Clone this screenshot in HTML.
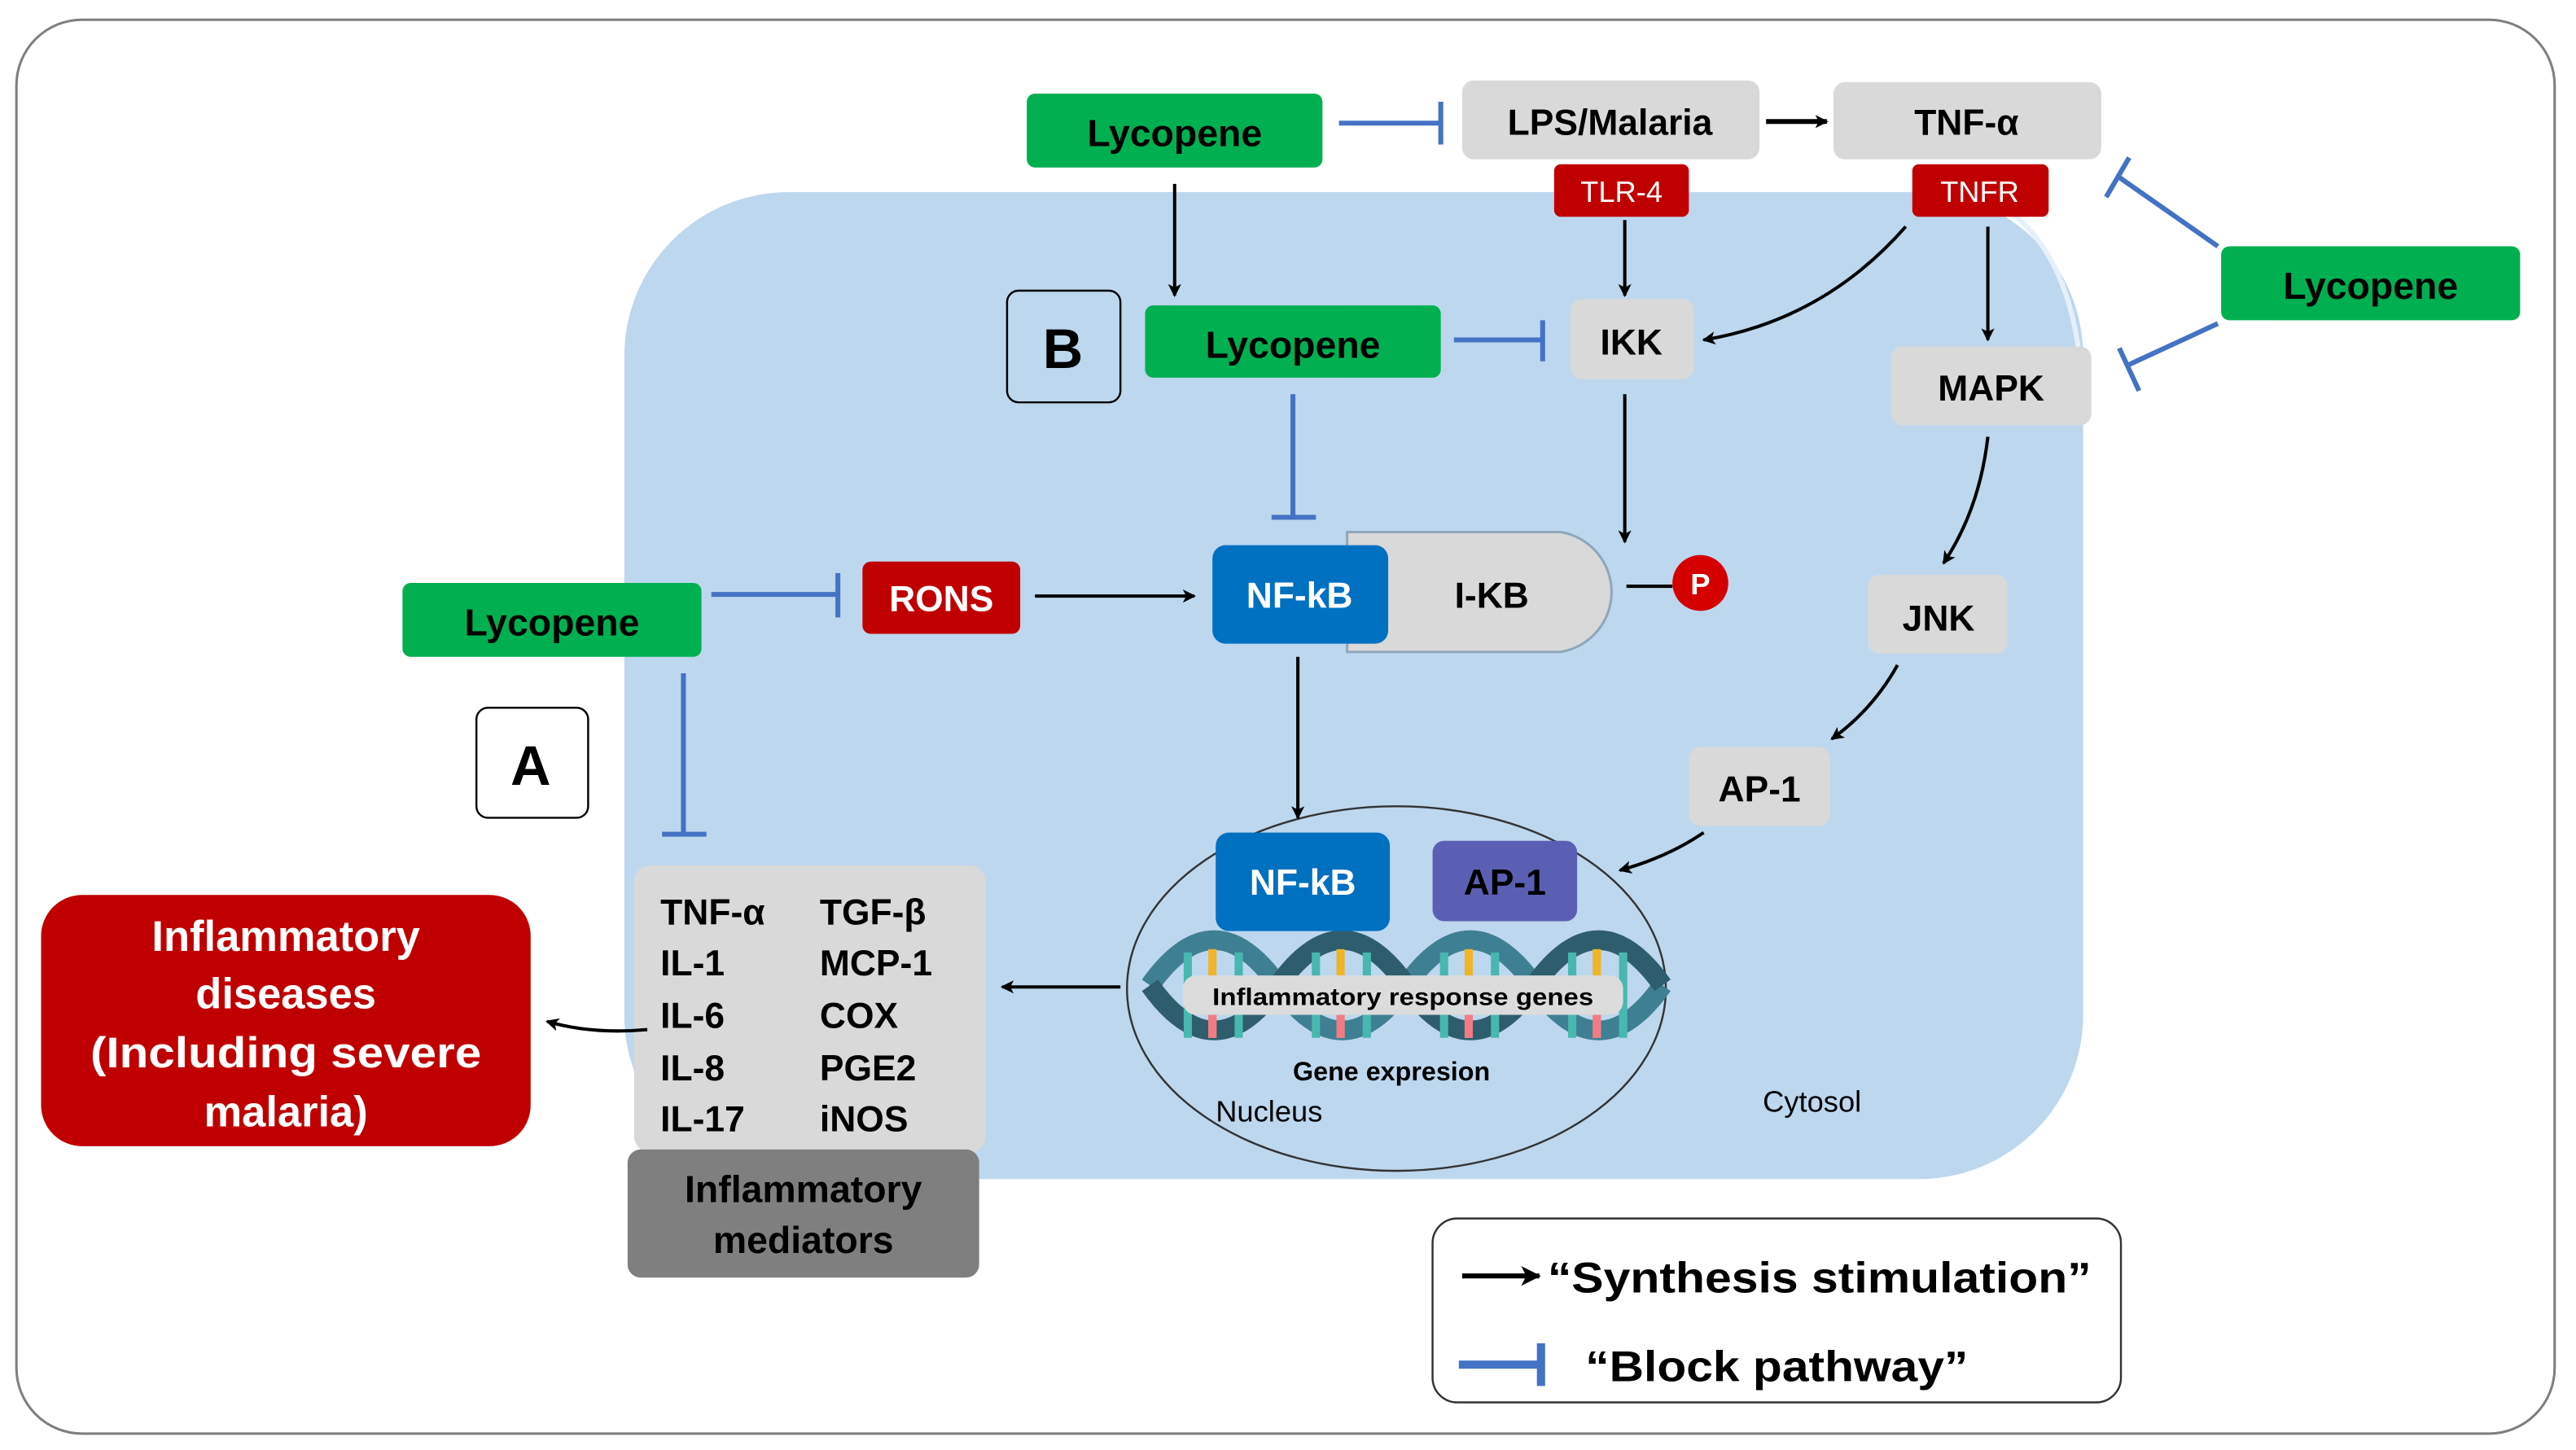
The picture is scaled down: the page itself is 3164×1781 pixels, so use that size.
<!DOCTYPE html>
<html><head><meta charset="utf-8"><style>
html,body{margin:0;padding:0;background:#fff;}
svg{display:block;}
text{font-family:"Liberation Sans",sans-serif;font-weight:bold;}
</style></head><body>
<svg width="3164" height="1781" viewBox="0 0 1568 883" preserveAspectRatio="none" xmlns="http://www.w3.org/2000/svg">
<defs>
<marker id="ar" markerWidth="8" markerHeight="8" refX="7" refY="4" orient="auto" markerUnits="userSpaceOnUse"><path d="M0,0 L8,4 L0,8 L2,4 z" fill="#000"/></marker>
<marker id="arB" markerWidth="12" markerHeight="12" refX="11" refY="6" orient="auto" markerUnits="userSpaceOnUse"><path d="M0,0 L12,6 L0,12 L3,6 z" fill="#000"/></marker>
</defs>
<rect x="10" y="12" width="1545" height="861" rx="40" fill="#fff" stroke="#7f7f7f" stroke-width="1.5"/>
<rect x="380" y="117" width="888" height="601" rx="100" fill="#bdd7ee"/>
<path d="M1225,130 Q1262,160 1267,230" stroke="#e6f0fa" stroke-width="3" fill="none"/>

<ellipse cx="850" cy="602" rx="164" ry="111" fill="#bdd7ee" stroke="#333" stroke-width="1.2"/>
<g>
<path d="M700,600 Q739,545 778,600 T856,600 T934,600 T1012,600" stroke="#3f7f93" stroke-width="12" fill="none"/>
<path d="M700,600 Q739,655 778,600 T856,600 T934,600 T1012,600" stroke="#2e5d6e" stroke-width="12" fill="none"/>
<g stroke-width="5">
<line x1="723" y1="580" x2="723" y2="632" stroke="#48b7b0"/><line x1="738" y1="578" x2="738" y2="632" stroke="#f0b429"/><line x1="754" y1="580" x2="754" y2="632" stroke="#48b7b0"/>
<line x1="801" y1="580" x2="801" y2="632" stroke="#48b7b0"/><line x1="816" y1="578" x2="816" y2="632" stroke="#f0b429"/><line x1="832" y1="580" x2="832" y2="632" stroke="#48b7b0"/>
<line x1="879" y1="580" x2="879" y2="632" stroke="#48b7b0"/><line x1="894" y1="578" x2="894" y2="632" stroke="#f0b429"/><line x1="910" y1="580" x2="910" y2="632" stroke="#48b7b0"/>
<line x1="957" y1="580" x2="957" y2="632" stroke="#48b7b0"/><line x1="972" y1="578" x2="972" y2="632" stroke="#f0b429"/><line x1="988" y1="580" x2="988" y2="632" stroke="#48b7b0"/>
<line x1="738" y1="612" x2="738" y2="632" stroke="#f37b86"/><line x1="816" y1="612" x2="816" y2="632" stroke="#f37b86"/><line x1="894" y1="612" x2="894" y2="632" stroke="#f37b86"/><line x1="972" y1="612" x2="972" y2="632" stroke="#f37b86"/>
</g>
<rect x="720" y="594" width="268" height="24" rx="8" fill="#dcdcdc"/>
<text x="738" y="612" font-size="14.5" textLength="232" lengthAdjust="spacingAndGlyphs">Inflammatory response  genes</text>
</g>
<text x="847" y="658" font-size="16" text-anchor="middle">Gene expresion</text>
<text x="740" y="683" font-size="18" style="font-weight:normal">Nucleus</text>
<text x="1073" y="677" font-size="18" style="font-weight:normal">Cytosol</text>

<g font-size="22">
<rect x="625" y="57" width="180" height="45" rx="5" fill="#00b050"/><text x="715" y="89" text-anchor="middle" font-size="23">Lycopene</text>
<rect x="697" y="186" width="180" height="44" rx="5" fill="#00b050"/><text x="787" y="218" text-anchor="middle" font-size="23">Lycopene</text>
<rect x="245" y="355" width="182" height="45" rx="5" fill="#00b050"/><text x="336" y="387" text-anchor="middle" font-size="23">Lycopene</text>
<rect x="1352" y="150" width="182" height="45" rx="5" fill="#00b050"/><text x="1443" y="182" text-anchor="middle" font-size="23">Lycopene</text>

<rect x="890" y="49" width="181" height="48" rx="7" fill="#d9d9d9"/><text x="980" y="82" text-anchor="middle">LPS/Malaria</text>
<rect x="1116" y="50" width="163" height="47" rx="7" fill="#d9d9d9"/><text x="1197" y="82" text-anchor="middle">TNF-α</text>
<rect x="956" y="182" width="75" height="49" rx="7" fill="#d9d9d9"/><text x="993" y="216" text-anchor="middle">IKK</text>
<rect x="1151" y="211" width="122" height="48" rx="7" fill="#d9d9d9"/><text x="1212" y="244" text-anchor="middle">MAPK</text>
<rect x="1137" y="350" width="85" height="48" rx="7" fill="#d9d9d9"/><text x="1180" y="384" text-anchor="middle">JNK</text>
<rect x="1028" y="455" width="86" height="48" rx="7" fill="#d9d9d9"/><text x="1071" y="488" text-anchor="middle">AP-1</text>

<rect x="946" y="100" width="82" height="32" rx="4" fill="#c00000"/><text x="987" y="123" text-anchor="middle" font-size="18" fill="#fff" style="font-weight:normal">TLR-4</text>
<rect x="1164" y="100" width="83" height="32" rx="4" fill="#c00000"/><text x="1205" y="123" text-anchor="middle" font-size="18" fill="#fff" style="font-weight:normal">TNFR</text>
<rect x="525" y="342" width="96" height="44" rx="5" fill="#c00000"/><text x="573" y="372" text-anchor="middle" fill="#fff">RONS</text>

<rect x="613" y="177" width="69" height="68" rx="7" fill="none" stroke="#000" stroke-width="1.2"/><text x="647" y="224" text-anchor="middle" font-size="34">B</text>
<rect x="290" y="431" width="68" height="67" rx="7" fill="#fff" stroke="#000" stroke-width="1.2"/><text x="323" y="478" text-anchor="middle" font-size="34">A</text>

<path d="M820,324 L950,324 A37,37 0 0 1 950,397 L820,397 Z" fill="#d9d9d9" stroke="#8ea6bd" stroke-width="1.5"/>
<text x="908" y="370" text-anchor="middle">I-KB</text>
<rect x="738" y="332" width="107" height="60" rx="8" fill="#0070c0"/><text x="791" y="370" text-anchor="middle" fill="#fff">NF-kB</text>
<circle cx="1035" cy="355" r="17" fill="#d40000"/><text x="1035" y="362" text-anchor="middle" font-size="18" fill="#fff">P</text>

<rect x="740" y="507" width="106" height="60" rx="8" fill="#0070c0"/><text x="793" y="545" text-anchor="middle" fill="#fff">NF-kB</text>
<rect x="872" y="512" width="88" height="49" rx="7" fill="#5b5fb4"/><text x="916" y="545" text-anchor="middle">AP-1</text>

<rect x="386" y="527" width="214" height="175" rx="10" fill="#d9d9d9"/>
<g font-size="22">
<text x="402" y="563">TNF-α</text><text x="402" y="594">IL-1</text><text x="402" y="626">IL-6</text><text x="402" y="658">IL-8</text><text x="402" y="689">IL-17</text>
<text x="499" y="563">TGF-β</text><text x="499" y="594">MCP-1</text><text x="499" y="626">COX</text><text x="499" y="658">PGE2</text><text x="499" y="689">iNOS</text>
</g>
<rect x="382" y="700" width="214" height="78" rx="8" fill="#7f7f7f"/>
<text x="489" y="732" text-anchor="middle" font-size="23">Inflammatory</text><text x="489" y="763" text-anchor="middle" font-size="23">mediators</text>

<rect x="25" y="545" width="298" height="153" rx="25" fill="#c00000"/>
<g fill="#fff" font-size="26" text-anchor="middle">
<text x="174" y="579">Inflammatory</text><text x="174" y="614">diseases</text><text x="174" y="650" textLength="238" lengthAdjust="spacingAndGlyphs">(Including severe</text><text x="174" y="686">malaria)</text>
</g>

<rect x="872" y="742" width="419" height="112" rx="15" fill="#fff" stroke="#333" stroke-width="1.2"/>
<text x="942" y="787" font-size="26" textLength="331" lengthAdjust="spacingAndGlyphs">“Synthesis stimulation”</text>
<text x="965" y="841" font-size="26" textLength="233" lengthAdjust="spacingAndGlyphs">“Block pathway”</text>
</g>

<g stroke="#000" stroke-width="2" fill="none" marker-end="url(#ar)">
<line x1="715" y1="112" x2="715" y2="180"/>
<line x1="989" y1="134" x2="989" y2="180"/>
<path d="M1160,138 Q1110,195 1037,207"/>
<line x1="1210" y1="138" x2="1210" y2="207"/>
<line x1="989" y1="240" x2="989" y2="330"/>
<line x1="630" y1="363" x2="727" y2="363"/>
<line x1="790" y1="400" x2="790" y2="498"/>
<path d="M1210,266 Q1205,310 1183,343"/>
<path d="M1155,405 Q1140,432 1115,450"/>
<path d="M1037,507 Q1015,522 986,530"/>
<line x1="682" y1="601" x2="610" y2="601"/>
<path d="M394,627 Q360,630 333,622"/>
</g>
<line x1="1075" y1="74" x2="1112" y2="74" stroke="#000" stroke-width="3" marker-end="url(#ar)"/>
<line x1="990" y1="357" x2="1018" y2="357" stroke="#000" stroke-width="2"/>
<line x1="890" y1="777" x2="937" y2="777" stroke="#000" stroke-width="3" marker-end="url(#arB)"/>

<g stroke="#4472c4" stroke-width="3" fill="none">
<line x1="815" y1="75" x2="877" y2="75"/><line x1="877" y1="62" x2="877" y2="88"/>
<line x1="885" y1="207" x2="939" y2="207"/><line x1="939" y1="195" x2="939" y2="220"/>
<line x1="787" y1="240" x2="787" y2="315"/><line x1="774" y1="315" x2="801" y2="315"/>
<line x1="433" y1="362" x2="510" y2="362"/><line x1="510" y1="349" x2="510" y2="376"/>
<line x1="416" y1="410" x2="416" y2="508"/><line x1="403" y1="508" x2="430" y2="508"/>
<line x1="1350" y1="150" x2="1290" y2="108"/><line x1="1282" y1="120" x2="1296" y2="96"/>
<line x1="1350" y1="197" x2="1296" y2="222"/><line x1="1290" y1="212" x2="1302" y2="238"/>
<line x1="888" y1="831" x2="938" y2="831" stroke-width="5"/><line x1="938" y1="818" x2="938" y2="844" stroke-width="5"/>
</g>
</svg>
</body></html>
